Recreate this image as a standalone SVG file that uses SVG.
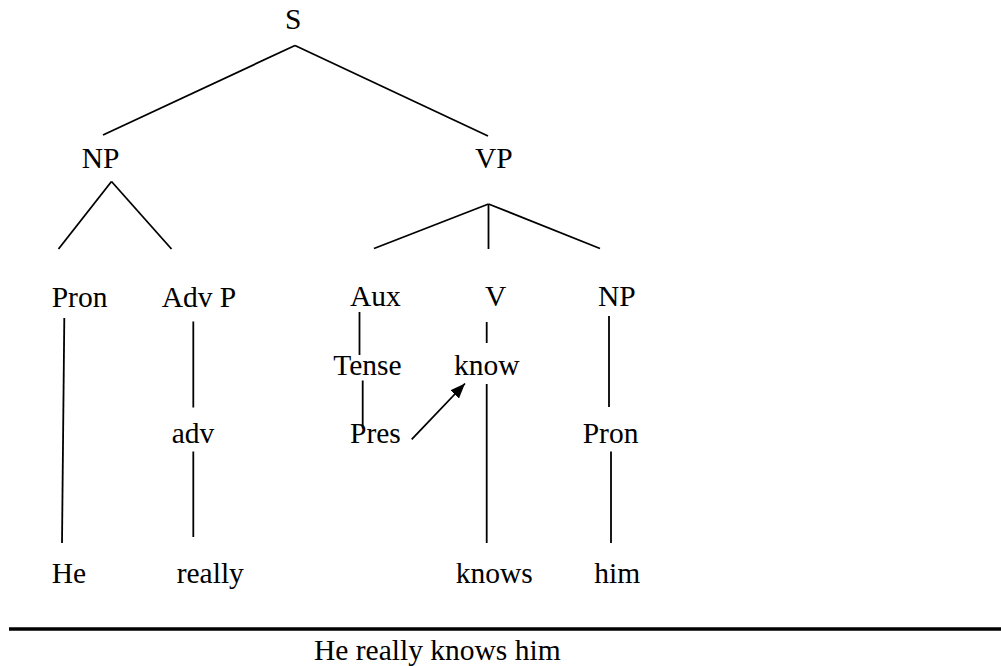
<svg xmlns="http://www.w3.org/2000/svg" width="1001" height="666" viewBox="0 0 1001 666">
  <style>
    .lbl { font-family: "Liberation Serif", Tinos, "Times New Roman", Times, "DejaVu Serif", serif; font-size: 29.5px; fill: #000; }
    .edge { stroke: #000; stroke-width: 1.8; fill: none; stroke-linecap: butt; }
    .rule { stroke: #000; stroke-width: 3.5; }
  </style>
  <defs>
    <marker id="arrow" markerUnits="userSpaceOnUse" markerWidth="16" markerHeight="12" refX="15" refY="6" orient="auto">
      <path d="M0,0 L15,6 L0,12 z" fill="#000"/>
    </marker>
  </defs>
  <rect width="1001" height="666" fill="#fff"/>

  <!-- tree branches -->
  <g id="connectors">
    <line class="edge" x1="295" y1="45.5" x2="103" y2="135"/>
    <line class="edge" x1="295" y1="45.5" x2="488" y2="136"/>
    <line class="edge" x1="111.5" y1="181.5" x2="58.5" y2="249"/>
    <line class="edge" x1="111.5" y1="181.5" x2="171.5" y2="249"/>
    <line class="edge" x1="488.5" y1="204" x2="374" y2="248.5"/>
    <line class="edge" x1="488.5" y1="204" x2="488.5" y2="249"/>
    <line class="edge" x1="488.5" y1="204" x2="600" y2="248.5"/>
    <line class="edge" x1="64.3" y1="318" x2="62" y2="543"/>
    <line class="edge" x1="193.3" y1="321.5" x2="193.3" y2="407.5"/>
    <line class="edge" x1="193.3" y1="451.5" x2="193.3" y2="537"/>
    <line class="edge" x1="359.5" y1="312" x2="359.5" y2="355"/>
    <line class="edge" x1="362.7" y1="380.5" x2="362.7" y2="428.5"/>
    <line class="edge" x1="486.7" y1="322" x2="486.7" y2="343"/>
    <line class="edge" x1="486.7" y1="384" x2="486.7" y2="543"/>
    <line class="edge" x1="609" y1="316" x2="609" y2="407"/>
    <line class="edge" x1="611" y1="451.5" x2="611" y2="543"/>
    <line class="edge" x1="411.7" y1="439.3" x2="465" y2="383.5" marker-end="url(#arrow)"/>
  </g>

  <g class="lbl" font-family="Liberation Serif, Times New Roman, serif">
    <g id="node-S"><text x="285" y="29.3">S</text></g>
    <g id="node-NP"><text x="81.7" y="167.7">NP</text></g>
    <g id="node-VP"><text x="475" y="167.7">VP</text></g>
    <g id="node-Pron1"><text x="51.7" y="306.5">Pron</text></g>
    <g id="node-AdvP"><text x="161.7" y="306.5">Adv P</text></g>
    <g id="node-Aux"><text x="350" y="306">Aux</text></g>
    <g id="node-V"><text x="485" y="306">V</text></g>
    <g id="node-NP2"><text x="598" y="306">NP</text></g>
    <g id="node-Tense"><text x="333.3" y="375">Tense</text></g>
    <g id="node-know"><text x="454" y="375">know</text></g>
    <g id="node-adv"><text x="171.7" y="443.3">adv</text></g>
    <g id="node-Pres"><text x="350" y="443.3">Pres</text></g>
    <g id="node-Pron2"><text x="582.7" y="443.3">Pron</text></g>
    <g id="node-He"><text x="51.7" y="582.7">He</text></g>
    <g id="node-really"><text x="176.7" y="582.7">really</text></g>
    <g id="node-knows"><text x="455.7" y="582.7">knows</text></g>
    <g id="node-him"><text x="594.3" y="582.7">him</text></g>
  </g>

  <!-- sentence rule and caption -->
  <g id="sentence">
    <line class="rule" x1="9" y1="629" x2="1001" y2="629"/>
    <text class="lbl" x="314" y="660">He really knows him</text>
  </g>
</svg>
